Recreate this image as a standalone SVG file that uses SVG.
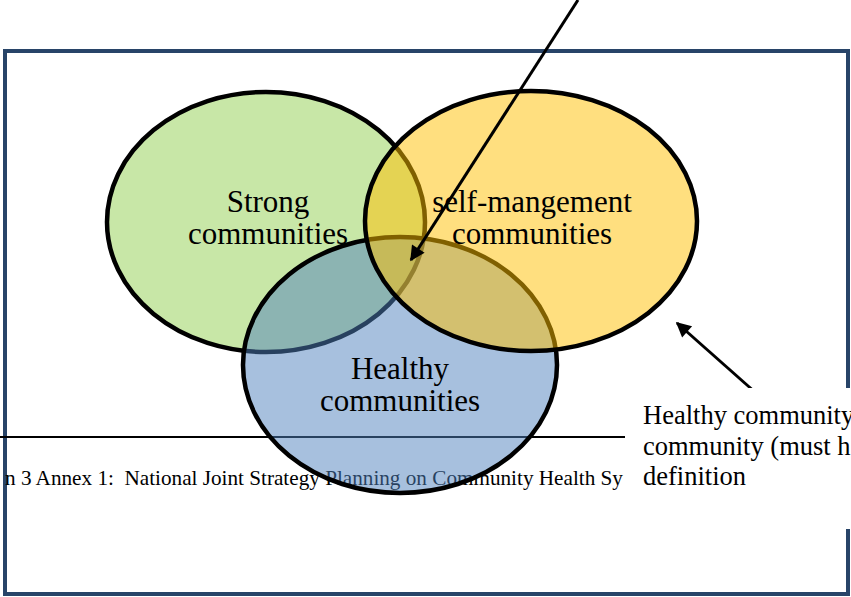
<svg xmlns="http://www.w3.org/2000/svg" width="851" height="597" viewBox="0 0 851 597">
  <style>
    .frame { fill: none; stroke: #284468; stroke-width: 4; }
    .set { stroke: #000; stroke-width: 4.5; fill-opacity: 0.5; }
    .label { font-family: "Liberation Serif", "Times New Roman", serif; font-size: 31px; fill: #000; text-anchor: middle; }
    .note { font-family: "Liberation Serif", "Times New Roman", serif; font-size: 26.5px; fill: #000; }
    .footer { font-family: "Liberation Serif", "Times New Roman", serif; font-size: 21.2px; fill: #000; }
    .arrow { stroke: #000; stroke-width: 3; fill: none; marker-end: url(#head); }
  </style>
  <defs>
    <marker id="head" viewBox="0 0 10 10" refX="9" refY="5" markerWidth="6" markerHeight="5" markerUnits="strokeWidth" orient="auto">
      <path d="M0,0 L10,5 L0,10 z" fill="#000"/>
    </marker>
  </defs>
  <rect width="851" height="597" fill="#fff"/>

  <!-- page frame -->
  <rect class="frame" x="5" y="51" width="843" height="543"/>

  <!-- running footer of the page -->
  <g id="footer">
    <line x1="0" y1="437" x2="625" y2="437" stroke="#000" stroke-width="1.8"/>
    <text class="footer" x="5" y="485" xml:space="preserve">n 3 Annex 1:  National Joint Strategy Planning on Community Health Sy</text>
  </g>

  <!-- three overlapping sets -->
  <g id="strong">
    <ellipse class="set" cx="266" cy="222" rx="159" ry="130" fill="#92d050"/>
  </g>
  <g id="healthy">
    <ellipse class="set" cx="400" cy="365" rx="157" ry="128" fill="#4f81bd"/>
  </g>
  <g id="self-management">
    <ellipse class="set" cx="531" cy="221" rx="166" ry="130" fill="#ffc000"/>
  </g>

  <g id="labels">
    <text class="label" x="268" y="212">Strong</text>
    <text class="label" x="268" y="244">communities</text>
    <text class="label" x="532" y="212">self-mangement</text>
    <text class="label" x="532" y="244">communities</text>
    <text class="label" x="400" y="379">Healthy</text>
    <text class="label" x="400" y="411">communities</text>
  </g>

  <g id="connectors">
    <line class="arrow" x1="578" y1="0" x2="411" y2="260"/>
    <line class="arrow" x1="756" y1="393" x2="677" y2="323"/>
  </g>

  <!-- callout note -->
  <g id="note">
    <rect x="629" y="388" width="222" height="141" fill="#fff"/>
    <text class="note" x="643" y="424">Healthy community</text>
    <text class="note" x="643" y="455">community (must h</text>
    <text class="note" x="643" y="485">definition</text>
  </g>
</svg>
